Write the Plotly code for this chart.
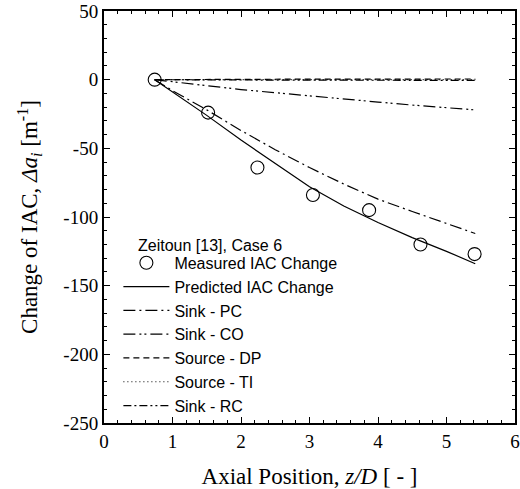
import plotly.graph_objects as go

# Measured interfacial area concentration change along the pipe
meas_z = [0.74, 1.52, 2.24, 3.05, 3.87, 4.62, 5.41]
meas_dai = [0, -24, -64, -84, -95, -120, -127]

# Model curves (z/D positions shared by all predicted terms)
model_z = [0.74, 1.0, 1.5, 2.0, 2.5, 3.0, 3.5, 4.0, 4.5, 5.0, 5.42]
pred_total = [0, -9, -26, -44, -61, -78, -92, -104, -115, -125, -134]
sink_pc = [0, -8, -22, -37, -51, -64, -76, -87, -96, -105, -112]
sink_co = [0, -1.5, -4.5, -7.2, -9.5, -11.6, -14, -16.3, -18.5, -20.4, -22]
source_dp = [0, 0.1, 0.2, 0.3, 0.3, 0.4, 0.4, 0.5, 0.5, 0.5, 0.5]
source_ti = [0, 0, 0, 0, 0, 0, 0, 0, 0, 0, 0]
sink_rc = [0, -0.1, -0.2, -0.3, -0.3, -0.4, -0.4, -0.5, -0.5, -0.5, -0.5]

x_ticks = [0, 1, 2, 3, 4, 5, 6]
y_ticks = [-250, -200, -150, -100, -50, 0, 50]

serif = "Liberation Serif"
sans = "Liberation Sans"

fig = go.Figure()

fig.add_trace(go.Scatter(
    x=meas_z, y=meas_dai, mode="markers", name="Measured IAC Change",
    legendgroup="a",
    marker=dict(symbol="circle-open", size=13, color="black", line=dict(width=1.1)),
))

line_specs = [
    ("Predicted IAC Change", pred_total, "solid", "b"),
    ("Sink - PC", sink_pc, "12px,4px,2px,4px", "c"),
    ("Sink - CO", sink_co, "12px,4px,2px,3px,2px,4px", "d"),
    ("Source - DP", source_dp, "6px,4px", "e"),
    ("Source - TI", source_ti, "1px,3px", "f"),
    ("Sink - RC", sink_rc, "8px,3px,2px,3px,8px,3px,2px,3px,2px,3px", "g"),
]
for name, vals, dash, grp in line_specs:
    fig.add_trace(go.Scatter(
        x=model_z, y=vals, mode="lines", name=name, legendgroup=grp,
        line=dict(color="black", width=1.2, dash=dash),
    ))

axis_common = dict(
    showline=True, linecolor="black", linewidth=2, mirror="ticks",
    ticks="inside", ticklen=6, tickwidth=1, tickcolor="black",
    showgrid=False, zeroline=False, automargin=False,
    tickfont=dict(family=serif, size=19, color="black"),
)

fig.update_xaxes(
    range=[0, 6], tickvals=x_ticks, ticktext=[str(v) for v in x_ticks],
    minor=dict(dtick=0.2, ticks="inside", ticklen=3, tickcolor="black", showgrid=False),
    title=dict(text="Axial Position, <i>z/D</i> [ - ]",
               font=dict(family=serif, size=23, color="black"), standoff=21),
    **axis_common,
)
fig.update_yaxes(
    range=[-250, 50], tickvals=y_ticks, ticktext=[str(v) for v in y_ticks],
    minor=dict(dtick=10, ticks="inside", ticklen=3, tickcolor="black", showgrid=False),
    title=dict(text="Change of IAC, <i>\u0394a<sub>i</sub></i> [m<sup>-1</sup>]",
               font=dict(family=serif, size=23, color="black"), standoff=19),
    **axis_common,
)

fig.add_annotation(
    text="Zeitoun [13], Case 6", xref="paper", yref="paper",
    x=0.078, y=0.405, xanchor="left", yanchor="bottom", showarrow=False,
    font=dict(family=sans, size=16, color="black"),
)

fig.update_layout(
    width=520, height=489,
    margin=dict(l=104, r=5, t=11, b=66),
    paper_bgcolor="white", plot_bgcolor="white",
    showlegend=True,
    legend=dict(
        x=0.035, y=0.43, xanchor="left", yanchor="top",
        bgcolor="rgba(0,0,0,0)", borderwidth=0,
        font=dict(family=sans, size=16, color="black"),
        itemwidth=46, tracegroupgap=0,
    ),
)

fig.write_html("out.html")
